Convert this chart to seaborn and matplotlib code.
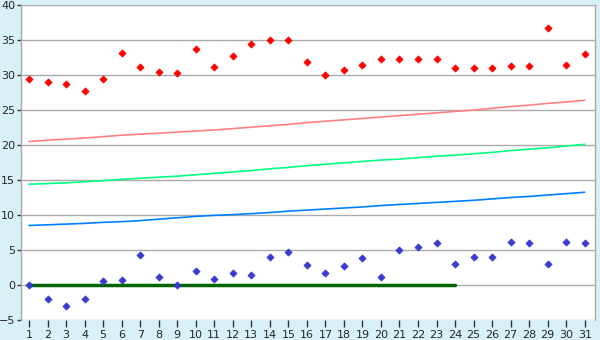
import matplotlib
matplotlib.use("Agg")
import matplotlib.pyplot as plt
import seaborn as sns
import pandas as pd

days = list(range(1, 32))
high_pts = [29.4, 29.0, 28.7, 27.7, 29.4, 33.2, 31.1, 30.4, 30.3, 33.7,
            31.1, 32.7, 34.4, 35.0, 35.0, 31.8, 30.0, 30.7, 31.4, 32.3,
            32.3, 32.3, 32.3, 31.0, 31.0, 31.0, 31.3, 31.3, 36.7, 31.4, 33.0]
low_pts = [0.0, -2.0, -3.0, -2.0, 0.5, 0.7, 4.3, 1.1, 0.0, 2.0,
           0.8, 1.7, 1.4, 4.0, 4.7, 2.8, 1.7, 2.7, 3.8, 1.1,
           5.0, 5.4, 6.0, 3.0, 4.0, 4.0, 6.1, 6.0, 3.0, 6.1, 6.0]
pink_line = [20.5, 20.7, 20.85, 21.0, 21.2, 21.4, 21.55, 21.7, 21.85, 22.0,
             22.15, 22.35, 22.55, 22.75, 22.95, 23.2, 23.4, 23.6, 23.8, 24.0,
             24.2, 24.4, 24.6, 24.8, 25.0, 25.25, 25.5, 25.7, 25.95, 26.15, 26.4]
green_line = [14.4, 14.5, 14.6, 14.75, 14.9, 15.1, 15.25, 15.4, 15.55, 15.75,
              15.95, 16.15, 16.35, 16.6, 16.8, 17.05, 17.25, 17.45, 17.65, 17.85,
              18.0, 18.2, 18.4, 18.55, 18.75, 18.95, 19.2, 19.4, 19.6, 19.85, 20.1]
blue_line = [8.5, 8.6, 8.7, 8.8, 8.95, 9.05, 9.2, 9.4, 9.6, 9.8,
             9.95, 10.05, 10.2, 10.35, 10.55, 10.7, 10.85, 11.0, 11.15, 11.35,
             11.5, 11.65, 11.8, 11.95, 12.1, 12.3, 12.5, 12.65, 12.85, 13.05, 13.25]
zero_days = list(range(1, 25))
zero_vals = [0.0] * 24
y_ticks = [-5, 0, 5, 10, 15, 20, 25, 30, 35, 40]

df = pd.DataFrame({"day": days, "high": high_pts, "low": low_pts,
                   "pink": pink_line, "green": green_line, "blue": blue_line})
dz = pd.DataFrame({"day": zero_days, "val": zero_vals})

sns.set_style("white")
plt.rcParams['font.family'] = ['DejaVu Sans']

fig = plt.figure(figsize=(6, 3.4), dpi=100, facecolor="#d8f0f8")
ax = fig.add_axes([0.0345, 0.059, 0.957, 0.926])
ax.set_facecolor("white")

for yv in y_ticks:
    ax.axhline(yv, color="#aaaaaa", lw=1.0, zorder=0)

sns.lineplot(data=df, x="day", y="pink", color="#ff8080", lw=1.2, ax=ax)
sns.lineplot(data=df, x="day", y="green", color="#00ff80", lw=1.2, ax=ax)
sns.lineplot(data=df, x="day", y="blue", color="#0080ff", lw=1.2, ax=ax)
sns.lineplot(data=dz, x="day", y="val", color="#006400", lw=2.5, ax=ax)
sns.scatterplot(data=df, x="day", y="high", marker="D", s=13, color="#ff0000",
                edgecolor="#ff0000", linewidth=0.6, ax=ax, zorder=5)
sns.scatterplot(data=df, x="day", y="low", marker="D", s=13, color="#3a3acc",
                edgecolor="#3a3acc", linewidth=0.6, ax=ax, zorder=5)

ax.set_xlim(0.55, 31.55)
ax.set_ylim(-5, 40)
ax.set_xticks(days)
ax.set_xticklabels([str(d) for d in days])
ax.set_yticks(y_ticks)
ax.set_xlabel("")
ax.set_ylabel("")
for s in ["top", "bottom"]:
    ax.spines[s].set_visible(False)
for s in ["left", "right"]:
    ax.spines[s].set_visible(True)
    ax.spines[s].set_color("#aaaaaa")
    ax.spines[s].set_linewidth(1.0)
ax.tick_params(axis="x", direction="out", length=5, width=1, color="#333333",
               labelsize=8, pad=2, bottom=True)
ax.tick_params(axis="y", direction="out", length=3, width=1, color="#333333",
               labelsize=8, pad=1, left=True)

fig.savefig("out.png", dpi=100, facecolor=fig.get_facecolor())
